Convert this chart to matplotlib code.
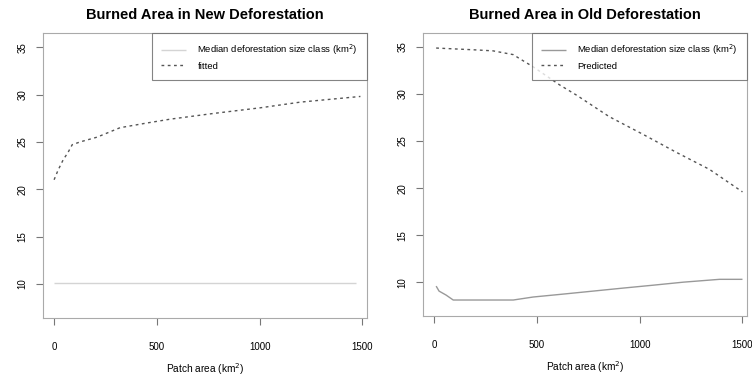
import matplotlib
matplotlib.use("Agg")
import matplotlib.pyplot as plt

plt.rcParams['font.family'] = ['Liberation Sans', 'DejaVu Sans']

# New deforestation: fitted curve and observed median line
new_x_pred = [0, 19, 44, 68, 88, 127, 209, 321, 453, 565, 774, 1003, 1198, 1442, 1490]
new_y_pred = [21.0, 22.0, 23.1, 23.9, 24.7, 25.0, 25.5, 26.5, 27.0, 27.4, 28.0, 28.6, 29.2, 29.7, 29.8]
new_x_obs = [0, 300, 600, 900, 1200, 1470]
new_y_obs = [10.1, 10.1, 10.1, 10.1, 10.1, 10.1]

# Old deforestation: fitted curve and observed median line
old_x_pred = [10, 205, 287, 385, 414, 482, 609, 692, 852, 1018, 1179, 1339, 1500]
old_y_pred = [34.9, 34.7, 34.6, 34.2, 33.8, 32.9, 31.0, 29.9, 27.6, 25.7, 23.8, 22.0, 19.6]
old_x_obs = [10, 24, 58, 93, 385, 482, 628, 774, 920, 1067, 1213, 1388, 1500]
old_y_obs = [9.58, 9.05, 8.63, 8.10, 8.10, 8.42, 8.73, 9.05, 9.37, 9.68, 10.0, 10.3, 10.3]

x_ticks = [0, 500, 1000, 1500]
x_tick_labels = ["0", "500", "1000", "1500"]
y_ticks = [10, 15, 20, 25, 30, 35]
y_tick_labels = ["10", "15", "20", "25", "30", "35"]

titles = ["Burned Area in New Deforestation", "Burned Area in Old Deforestation"]
xlabels = ["Patch area (km$^2$)", "Patch area (km$^2$)"]
legend_labels = [["Median deforestation size class (km$^2$)", "fitted"],
                 ["Median deforestation size class (km$^2$)", "Predicted"]]

fig = plt.figure(figsize=(7.52, 3.81), dpi=100)
W, H = 752, 381
boxes = [(43, 33, 367, 318), (423, 33, 747, 316)]
data = [(new_x_obs, new_y_obs, new_x_pred, new_y_pred, '#d4d4d4'),
        (old_x_obs, old_y_obs, old_x_pred, old_y_pred, '#999999')]

for i, (l, t, r, b) in enumerate(boxes):
    ax = fig.add_axes([l / W, 1 - b / H, (r - l) / W, (b - t) / H])
    xo, yo, xp, yp, obs_col = data[i]
    l1, = ax.plot(xo, yo, color=obs_col, lw=1.0, solid_capstyle='butt')
    l2, = ax.plot(xp, yp, color='#555555', lw=1.0, linestyle=(0, (2, 2.5)))
    ax.set_xlim(-54, 1522)
    ax.set_ylim(6.4, 36.5)
    ax.set_xticks(x_ticks)
    ax.set_xticklabels(x_tick_labels, fontsize=7)
    ax.set_yticks(y_ticks)
    ax.set_yticklabels(y_tick_labels, fontsize=7, rotation=90, va='center')
    ax.tick_params(axis='x', direction='out', length=5, width=0.8, color='#777777', pad=12)
    ax.tick_params(axis='y', direction='out', length=5, width=0.8, color='#777777', pad=6)
    for s in ax.spines.values():
        s.set_color('#aaaaaa')
        s.set_linewidth(0.8)
    ax.set_title(titles[i], fontsize=10.5, fontweight='bold', pad=10)
    ax.set_xlabel(xlabels[i], fontsize=7.3, labelpad=7)
    leg = ax.legend([l1, l2], legend_labels[i], loc='upper right', fontsize=6.8,
                    frameon=True, fancybox=False, borderaxespad=0, handlelength=2.6,
                    borderpad=1.0, labelspacing=0.5, handletextpad=1.2)
    leg.get_frame().set_edgecolor('#666666')
    leg.get_frame().set_linewidth(0.8)

fig.savefig("out.png", dpi=100)
